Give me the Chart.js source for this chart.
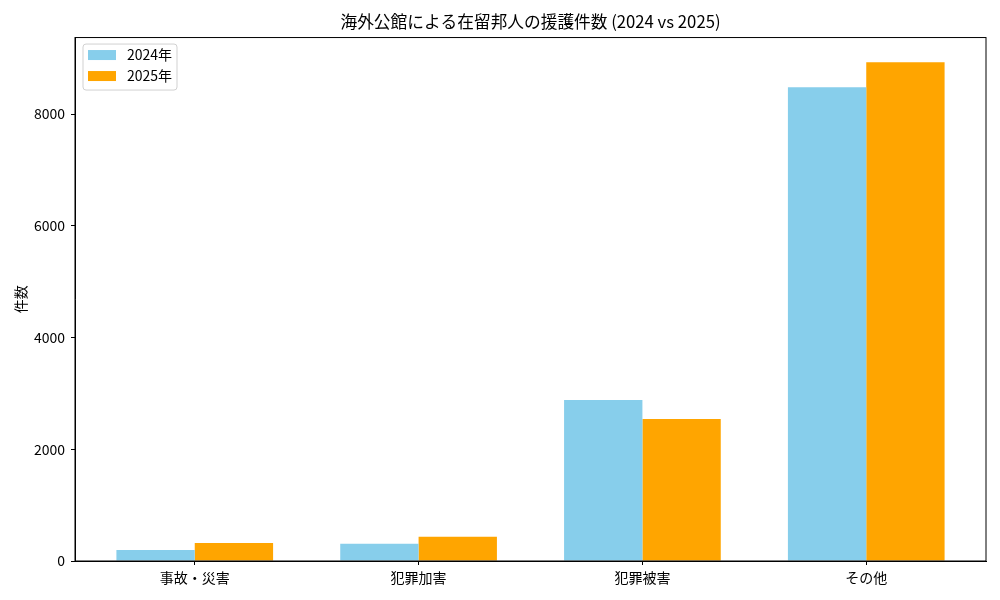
<!DOCTYPE html>
<html>
<head>
<meta charset="utf-8">
<script src="https://cdn.jsdelivr.net/npm/chart.js@4.4.1/dist/chart.umd.min.js"></script>
<style>
  html, body { margin: 0; padding: 0; background: #fff; }
  #wrap { width: 1000px; height: 600px; }
</style>
</head>
<body>
<div id="wrap"><canvas id="assistChart"></canvas></div>
<script>
// data
const categories = ["事故・災害", "犯罪加害", "犯罪被害", "その他"];
const seriesNames = ["2024年", "2025年"];
const values2024 = [197, 310, 2880, 8480];
const values2025 = [322, 435, 2540, 8927];
const yTicks = [0, 2000, 4000, 6000, 8000];

const FONT = "'Noto Sans CJK JP', 'Noto Sans', sans-serif";

//frame + legend inside the axes, like matplotlib
const framePlugin = {
    id: "frame",
    afterDatasetsDraw(chart) {
        const ctx = chart.ctx;
        const a = chart.chartArea;
        ctx.save();
        ctx.strokeStyle = "#000";
        ctx.lineWidth = 1;
        ctx.strokeRect(a.left, a.top, a.right - a.left, a.bottom - a.top);

        // legend box
        const x = a.left + 8, y = a.top + 6.5, w = 94, h = 46;
        ctx.beginPath();
        ctx.roundRect(x, y, w, h, 3);
        ctx.fillStyle = "rgba(255,255,255,0.8)";
        ctx.fill();
        ctx.strokeStyle = "rgba(204,204,204,0.9)";
        ctx.stroke();

        ctx.font = "14px " + FONT;
        ctx.textBaseline = "middle";
        chart.data.datasets.forEach((ds, i) => {
            const ry = y + 6 + i * 21;
            ctx.fillStyle = ds.backgroundColor;
            ctx.fillRect(x + 5, ry, 28, 10);
            ctx.fillStyle = "#000";
            ctx.fillText(ds.label, x + 44, ry + 5);
        });
        ctx.restore();
    },
};

let chartCanvas = document.getElementById("assistChart").getContext("2d");

let chartData = {
    datasets: [{
        label: seriesNames[0],
        backgroundColor: "#87CEEB",
        data: values2024.map((v, i) => ({ x: i, y: v })),
    }, {
        label: seriesNames[1],
        backgroundColor: "#FFA500",
        data: values2025.map((v, i) => ({ x: i, y: v })),
    }, ],
};

let chartOptions = {
    responsive: true,
    maintainAspectRatio: false,
    animation: false,
    devicePixelRatio: 1,
    barPercentage: 1.0,
    categoryPercentage: 0.7,
    layout: {
        padding: { left: 8, right: 14, top: 0, bottom: 0 },
    },
    plugins: {
        legend: { display: false },
        tooltip: { enabled: false },
        title: {
            display: true,
            fullSize: false,
            text: "海外公館による在留邦人の援護件数 (2024 vs 2025)",
            color: "#000",
            font: { family: FONT, size: 16.7, weight: "normal", lineHeight: 1.2 },
            padding: { top: 11.5, bottom: 6 },
        },
    },
    scales: {
        x: {
            type: "linear",
            offset: false,
            min: -0.535,
            max: 3.535,
            afterBuildTicks: function(scale) {
                scale.ticks = categories.map((c, i) => ({ value: i }));
            },
            afterFit: function(scale) {
                scale.height = 39;
            },
            ticks: {
                color: "#000",
                font: { family: FONT, size: 14 },
                padding: 4,
                maxRotation: 0,
                autoSkip: false,
                callback: function(value) {
                    return categories[value] ?? "";
                },
            },
            grid: {
                display: true,
                offset: false,
                drawOnChartArea: false,
                drawTicks: true,
                tickLength: 4,
                color: "#000",
            },
            border: { display: true, color: "#000", width: 1 },
        },
        y: {
            min: 0,
            max: 9370,
            afterBuildTicks: function(scale) {
                scale.ticks = yTicks.map((v) => ({ value: v }));
            },
            afterFit: function(scale) {
                scale.width = 67;
            },
            title: {
                display: true,
                text: "件数",
                color: "#000",
                font: { family: FONT, size: 14 },
                padding: { top: 4, bottom: 4 },
            },
            ticks: {
                color: "#000",
                font: { family: FONT, size: 14 },
                padding: 6,
                callback: function(value) {
                    return String(value);
                },
            },
            grid: {
                display: true,
                drawOnChartArea: false,
                drawTicks: true,
                tickLength: 4,
                color: "#000",
            },
            border: { display: true, color: "#000", width: 1 },
        },
    },
};

new Chart(chartCanvas, {
    type: "bar",
    data: chartData,
    options: chartOptions,
    plugins: [framePlugin],
});
</script>
</body>
</html>
